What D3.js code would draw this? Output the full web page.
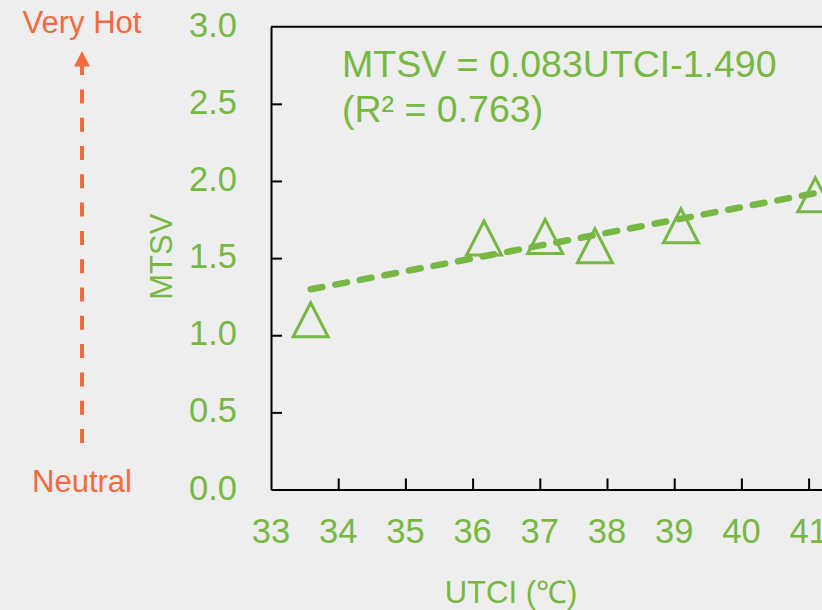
<!DOCTYPE html>
<html>
<head>
<meta charset="utf-8">
<script src="https://cdn.jsdelivr.net/npm/d3@7"></script>
<style>
  html, body { margin: 0; padding: 0; background: #eeeeee; overflow: hidden; }
  svg { display: block; font-family: Arial, "Liberation Sans", sans-serif; }
</style>
</head>
<body>
<svg id="chart" width="822" height="610"></svg>
<script>
// Data
const utci = [33.59, 36.17, 37.08, 37.82, 39.10, 41.10];
const mtsv = [1.10, 1.63, 1.64, 1.58, 1.71, 1.91];
const xTicks = [33, 34, 35, 36, 37, 38, 39, 40, 41, 42];
const yTicks = [0, 0.5, 1.0, 1.5, 2.0, 2.5, 3.0];
const slope = 0.083;
const intercept = -1.490;
const equationLines = ["MTSV = 0.083UTCI-1.490", "(R² = 0.763)"];

const green = "#76b843";
const orange = "#f46a3e";

const svg = d3.select("#chart");

// Scales
const x = d3.scaleLinear().domain([33, 42]).range([271, 271 + 9 * 67.2]);
const y = d3.scaleLinear().domain([0, 3]).range([489.5, 26.7]);

// Top border of the plot area
svg.append("line")
    .attr("x1", x(33)).attr("x2", 822)
    .attr("y1", y(3)).attr("y2", y(3))
    .attr("stroke", "#000").attr("stroke-width", 2);

// Axes with inward ticks
const xAxis = svg.append("g")
    .attr("transform", `translate(0,${y(0)})`)
    .call(d3.axisTop(x).tickValues(xTicks).tickSize(11).tickSizeOuter(0).tickFormat(""));
const yAxis = svg.append("g")
    .attr("transform", `translate(${x(33)},0)`)
    .call(d3.axisRight(y).tickValues(yTicks).tickSize(11).tickSizeOuter(0).tickFormat(""));
[xAxis, yAxis].forEach(g => {
    g.selectAll("path.domain").attr("stroke", "#000").attr("stroke-width", 2);
    g.selectAll(".tick line").attr("stroke", "#000").attr("stroke-width", 2);
});
// no tick marks on the corners
xAxis.selectAll(".tick").filter(d => d === 33).select("line").remove();
yAxis.selectAll(".tick").filter(d => d === 0 || d === 3).select("line").remove();

// Tick labels
svg.append("g").selectAll("text")
    .data(xTicks)
    .join("text")
    .attr("x", d => x(d))
    .attr("y", 542.5)
    .attr("text-anchor", "middle")
    .attr("fill", green)
    .attr("font-size", 34.5)
    .text(d => d);

svg.append("g").selectAll("text")
    .data(yTicks)
    .join("text")
    .attr("x", 237)
    .attr("y", d => y(d) + 10)
    .attr("text-anchor", "end")
    .attr("fill", green)
    .attr("font-size", 34.5)
    .text(d => d.toFixed(1));

// Axis titles
svg.append("text")
    .attr("x", 511)
    .attr("y", 603)
    .attr("text-anchor", "middle")
    .attr("fill", green)
    .attr("font-size", 31)
    .text("UTCI (℃)");

svg.append("text")
    .attr("transform", "translate(171.5,256.7) rotate(-90)")
    .attr("text-anchor", "middle")
    .attr("fill", green)
    .attr("font-size", 31)
    .text("MTSV");

// Trendline over the data range
const [xMin, xMax] = d3.extent(utci);
const line = d3.line().x(d => x(d)).y(d => y(slope * d + intercept));
svg.append("path")
    .attr("d", line([xMin, xMax]))
    .attr("fill", "none")
    .attr("stroke", green)
    .attr("stroke-width", 6.5)
    .attr("stroke-linecap", "round")
    .attr("stroke-dasharray", "12,13");

// Triangle markers
const tri = "M0,-17L17.5,17L-17.5,17Z";
svg.append("g").selectAll("path")
    .data(utci.map((u, i) => [u, mtsv[i]]))
    .join("path")
    .attr("transform", d => `translate(${x(d[0])},${y(d[1])})`)
    .attr("d", tri)
    .attr("fill", "none")
    .attr("stroke", green)
    .attr("stroke-width", 3);

// Equation text
svg.append("g").selectAll("text")
    .data(equationLines)
    .join("text")
    .attr("x", 342)
    .attr("y", (d, i) => 77 + i * 44.5)
    .attr("fill", green)
    .attr("font-size", 37.5)
    .text(d => d);

// Orange thermal sensation arrow
svg.append("line")
    .attr("x1", 82).attr("x2", 82)
    .attr("y1", 443).attr("y2", 66)
    .attr("stroke", orange)
    .attr("stroke-width", 4)
    .attr("stroke-dasharray", "14,14.3");
svg.append("path")
    .attr("d", "M82,51L90,66.5L74,66.5Z")
    .attr("fill", orange);

svg.append("text")
    .attr("x", 82).attr("y", 33)
    .attr("text-anchor", "middle")
    .attr("fill", orange)
    .attr("font-size", 31)
    .text("Very Hot");
svg.append("text")
    .attr("x", 82).attr("y", 491.5)
    .attr("text-anchor", "middle")
    .attr("fill", orange)
    .attr("font-size", 31)
    .text("Neutral");
</script>
</body>
</html>
